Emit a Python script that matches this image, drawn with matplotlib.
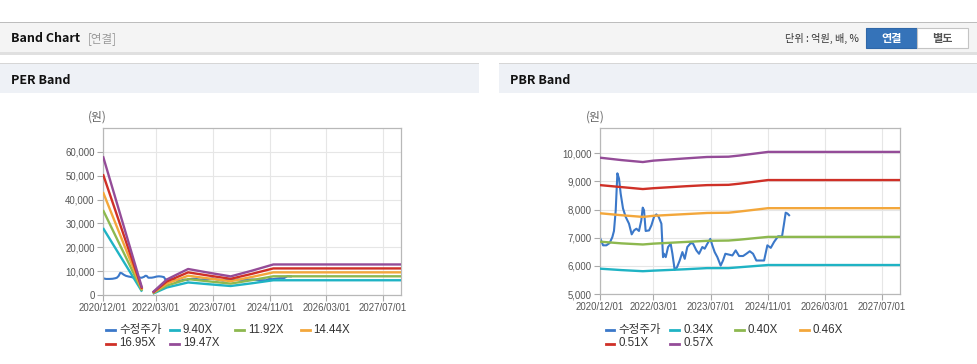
import numpy as np
import pandas as pd
import matplotlib
matplotlib.use("Agg")
import matplotlib.pyplot as plt
from matplotlib.patches import Rectangle
from matplotlib.lines import Line2D
from matplotlib.ticker import FuncFormatter

# ---- data -------------------------------------------------------------
price_dates = [
    "2020-12-01", "2020-12-27", "2021-01-24", "2021-02-21", "2021-03-16", "2021-03-30",
    "2021-04-14", "2021-04-28", "2021-05-12", "2021-05-26", "2021-06-15", "2021-07-08",
    "2021-08-05", "2021-08-28", "2021-09-17", "2021-10-07", "2021-10-29", "2021-11-18",
    "2021-11-30", "2021-12-11", "2021-12-25", "2022-01-23", "2022-02-12", "2022-03-06",
    "2022-03-26", "2022-04-15", "2022-05-08", "2022-05-22", "2022-05-30", "2022-06-14",
    "2022-07-04", "2022-07-26", "2022-08-10", "2022-08-29", "2022-09-18", "2022-10-11",
    "2022-11-03", "2022-11-23", "2022-12-15", "2023-01-13", "2023-02-02", "2023-03-02",
    "2023-03-25", "2023-04-22", "2023-05-12", "2023-06-04", "2023-06-29", "2023-07-16",
    "2023-08-05", "2023-08-28", "2023-09-25", "2023-10-15", "2023-11-04", "2023-12-05",
    "2024-01-03", "2024-01-31", "2024-02-29", "2024-04-03", "2024-05-01", "2024-05-30",
    "2024-06-27", "2024-07-25", "2024-08-31", "2024-09-29", "2024-10-27", "2024-11-25",
    "2024-12-23", "2025-01-26", "2025-03-01", "2025-03-18", "2025-04-01", "2025-04-16",
    "2025-04-30",
]
price = [
    7000, 6730, 6730, 6810, 7020, 7240,
    7980, 9290, 9100, 8570, 8040, 7740,
    7500, 7120, 7260, 7320, 7240, 7620,
    8070, 7980, 7240, 7260, 7440, 7740,
    7830, 7740, 7500, 6310, 6430, 6310,
    6670, 6790, 6430, 5860, 5950, 6190,
    6490, 6250, 6670, 6810, 6790, 6550,
    6430, 6670, 6610, 6790, 6960, 6730,
    6490, 6310, 6010, 6190, 6430, 6400,
    6370, 6550, 6350, 6350, 6430, 6520,
    6430, 6190, 6190, 6190, 6730, 6640,
    6850, 7050, 7050, 7500, 7890, 7860,
    7800,
]

# PER band (gap where EPS turned negative)
per_dates = ["2020-12-01", "2021-11-01", "2021-12-15", "2022-02-01", "2022-06-01",
             "2022-12-01", "2023-06-01", "2023-12-01", "2024-06-01", "2024-12-01",
             "2027-12-01"]
per_940 = [28090, 1420, np.nan, 540, 3140, 5260, 4490, 3770, 4920, 6180, 6180]
per_1192 = [35620, 1800, np.nan, 690, 3980, 6670, 5690, 4780, 6240, 7840, 7840]
per_1444 = [43150, 2180, np.nan, 830, 4820, 8080, 6900, 5790, 7570, 9490, 9490]
per_1695 = [50650, 2560, np.nan, 975, 5660, 9490, 8100, 6790, 8880, 11140, 11140]
per_1947 = [58180, 2940, np.nan, 1120, 6500, 10900, 9300, 7800, 10200, 12800, 12800]
per_labels = ["수정주가", "9.40X", "11.92X", "14.44X", "16.95X", "19.47X"]

# PBR band
pbr_dates = ["2020-12-01", "2021-06-01", "2021-12-01", "2022-03-01", "2022-12-01",
             "2023-06-01", "2023-12-01", "2024-03-01", "2024-11-01", "2027-12-01"]
pbr_034 = [5900, 5850, 5810, 5830, 5880, 5920, 5920, 5950, 6030, 6030]
pbr_040 = [6860, 6800, 6760, 6790, 6850, 6890, 6900, 6930, 7030, 7030]
pbr_046 = [7870, 7800, 7740, 7780, 7840, 7880, 7890, 7930, 8050, 8050]
pbr_051 = [8870, 8800, 8730, 8760, 8830, 8870, 8880, 8920, 9050, 9050]
pbr_057 = [9845, 9760, 9690, 9740, 9820, 9870, 9880, 9920, 10050, 10050]
pbr_labels = ["수정주가", "0.34X", "0.40X", "0.46X", "0.51X", "0.57X"]

x_ticks = ["2020/12/01", "2022/03/01", "2023/07/01", "2024/11/01", "2026/03/01", "2027/07/01"]

colors = ["#3b78c9", "#1fb3c4", "#8db84f", "#f3a73b", "#cf3027", "#944c98"]

# ---- figure -----------------------------------------------------------
W, H = 978, 364
fig = plt.figure(figsize=(W / 100, H / 100), dpi=100)
fig.patch.set_facecolor("white")

KR = ["Noto Sans CJK KR", "DejaVu Sans"]
LAT = ["Liberation Sans", "Noto Sans CJK KR", "DejaVu Sans"]


def fx(x):
    return x / W


def fy(y):
    return 1 - y / H


def rect(x0, y0, x1, y1, **kw):
    fig.add_artist(Rectangle((fx(x0), fy(y1)), fx(x1) - fx(x0), fy(y0) - fy(y1),
                             transform=fig.transFigure, **kw))


# top header bar
rect(0, 52, W, 54.5, facecolor="#e0e0e0", edgecolor="none")
rect(0, 22, W, 52, facecolor="#f4f4f4", edgecolor="none")
rect(0, 21.5, W, 23, facecolor="#bdbdbd", edgecolor="none")
fig.text(fx(11), fy(38), "Band Chart", family=KR, fontsize=9, fontweight="bold",
         color="#111111", va="center")
fig.text(fx(88), fy(38.5), "[연결]", family=KR, fontsize=8.3, color="#999999", va="center")
fig.text(fx(859), fy(38.5), "단위 : 억원, 배, %", family=KR, fontsize=7.3, color="#333333",
         va="center", ha="right")
rect(866, 28.5, 917, 47.5, facecolor="#3573b9", edgecolor="#2f67a8", linewidth=0.8)
rect(917, 28.5, 968, 47.5, facecolor="#ffffff", edgecolor="#c4c4c4", linewidth=0.8)
fig.text(fx(891.5), fy(38.5), "연결", family=KR, fontsize=8, fontweight="bold",
         color="white", va="center", ha="center")
fig.text(fx(942.5), fy(38.5), "별도", family=KR, fontsize=8, fontweight="bold",
         color="#555555", va="center", ha="center")

# panel headers
for x0, x1, title in [(0, 479, "PER Band"), (499, W, "PBR Band")]:
    rect(x0, 64, x1, 93, facecolor="#eef1f6", edgecolor="none")
    rect(x0, 62.5, x1, 64, facecolor="#d6d6d6", edgecolor="none")
    fig.text(fx(x0 + 11), fy(80), title, family=KR, fontsize=9, fontweight="bold",
             color="#111111", va="center")


def draw_panel(ax_px, dates_band, bands, labels, ylim, ystep, unit_x, legend_x):
    x0, y0, x1, y1 = ax_px
    ax = fig.add_axes([fx(x0), fy(y1), fx(x1) - fx(x0), fy(y0) - fy(y1)])
    pdates = pd.to_datetime(price_dates)
    bdates = pd.to_datetime(dates_band)
    handles = []
    h, = ax.plot(pdates, price, color=colors[0], lw=1.5, zorder=2)
    handles.append(h)
    for i, b in enumerate(bands):
        h, = ax.plot(bdates, b, color=colors[i + 1], lw=1.7, zorder=3 + i,
                     solid_capstyle="butt")
        handles.append(h)
    ax.set_xlim(pd.Timestamp("2020-12-01"), pd.Timestamp("2027-12-01"))
    ax.set_ylim(*ylim)
    ticks = pd.to_datetime(x_ticks)
    ax.set_xticks(ticks)
    ax.set_xticklabels(x_ticks)
    yt = np.arange(ylim[0], ylim[1], ystep)
    ax.set_yticks(yt)
    ax.yaxis.set_major_formatter(FuncFormatter(lambda v, p: f"{v:,.0f}"))
    ax.grid(True, color="#e6e6e6", lw=0.8)
    ax.set_axisbelow(True)
    for s in ax.spines.values():
        s.set_color("#b8b8b8")
        s.set_linewidth(0.9)
    ax.tick_params(axis="both", colors="#aaaaaa", length=4, width=0.8, pad=2,
                   labelcolor="#555555", labelsize=6.9)
    for t in ax.get_xticklabels() + ax.get_yticklabels():
        t.set_family(LAT)
    fig.text(fx(unit_x), fy(117), "(원)", family=KR, fontsize=8.5, color="#666666",
             ha="center", va="center")
    # legend, two rows
    for k, (h, lab) in enumerate(zip(handles, labels)):
        row, col = divmod(k, 4)
        lx = legend_x[col]
        ly = fy(330 + row * 13.5)
        fig.add_artist(Line2D([fx(lx), fx(lx + 9)], [ly, ly], transform=fig.transFigure,
                              color=h.get_color(), lw=2))
        fig.text(fx(lx + 13), ly, lab, family=LAT, fontsize=8.3, color="#333333",
                 va="center")
    return ax


draw_panel((103, 128, 401, 295), per_dates,
           [per_940, per_1192, per_1444, per_1695, per_1947], per_labels,
           (0, 70000), 10000, 97, [106.5, 170, 235.5, 300.5])
draw_panel((600, 128, 900, 294), pbr_dates,
           [pbr_034, pbr_040, pbr_046, pbr_051, pbr_057], pbr_labels,
           (5000, 10900), 1000, 595, [605.5, 670, 735, 800])

fig.savefig("out.png", dpi=100, facecolor="white")
